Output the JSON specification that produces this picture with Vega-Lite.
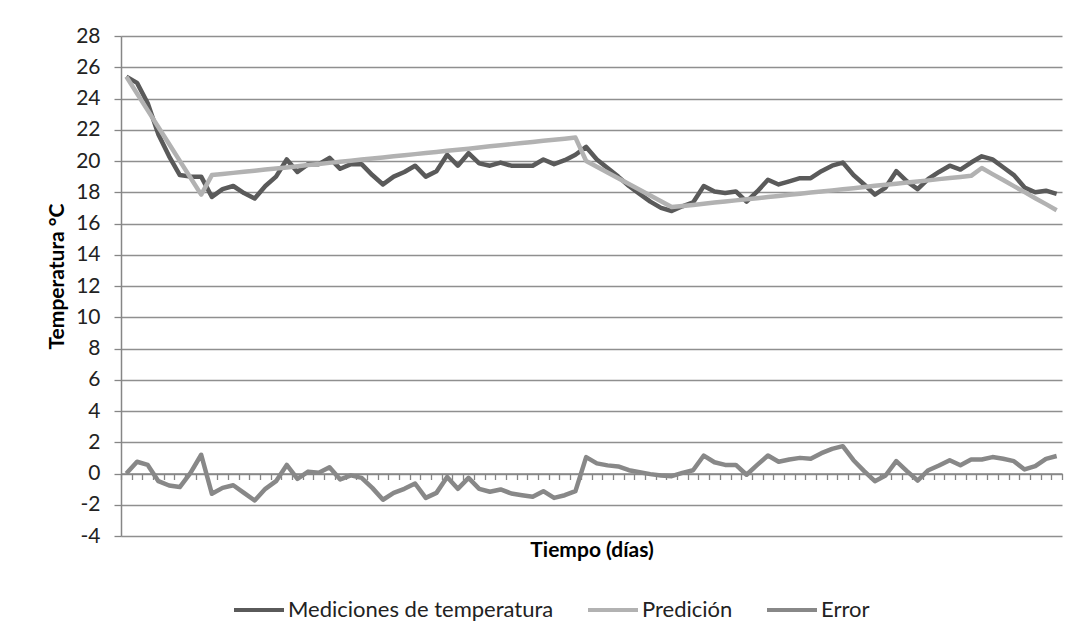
{
  "$schema": "https://vega.github.io/schema/vega-lite/v6.json",
  "autosize": {"type": "none"},
  "padding": {"left": 121, "top": 36, "right": 11, "bottom": 99},
  "width": 941,
  "height": 500,
  "background": "white",
  "config": {
    "view": {"stroke": null},
    "font": "Lato",
    "axis": {"labelFont": "Lato", "titleFont": "Lato"},
    "legend": {"labelFont": "Lato"}
  },
  "data": {"values": [
    {"dia":1,"m":25.4,"p":25.4,"e":0.0},
    {"dia":2,"m":25.0,"p":24.32,"e":0.75},
    {"dia":3,"m":23.7,"p":23.24,"e":0.55},
    {"dia":4,"m":21.7,"p":22.16,"e":-0.49},
    {"dia":5,"m":20.3,"p":21.09,"e":-0.77},
    {"dia":6,"m":19.1,"p":20.01,"e":-0.87},
    {"dia":7,"m":19.0,"p":18.93,"e":0.04},
    {"dia":8,"m":19.0,"p":17.85,"e":1.2},
    {"dia":9,"m":17.7,"p":19.1,"e":-1.3},
    {"dia":10,"m":18.2,"p":19.17,"e":-0.92},
    {"dia":11,"m":18.4,"p":19.24,"e":-0.75},
    {"dia":12,"m":17.95,"p":19.31,"e":-1.24},
    {"dia":13,"m":17.6,"p":19.38,"e":-1.73},
    {"dia":14,"m":18.4,"p":19.45,"e":-0.98},
    {"dia":15,"m":19.0,"p":19.52,"e":-0.49},
    {"dia":16,"m":20.1,"p":19.59,"e":0.55},
    {"dia":17,"m":19.3,"p":19.66,"e":-0.34},
    {"dia":18,"m":19.8,"p":19.74,"e":0.12},
    {"dia":19,"m":19.8,"p":19.81,"e":0.05},
    {"dia":20,"m":20.2,"p":19.88,"e":0.4},
    {"dia":21,"m":19.5,"p":19.95,"e":-0.38},
    {"dia":22,"m":19.8,"p":20.02,"e":-0.12},
    {"dia":23,"m":19.8,"p":20.09,"e":-0.28},
    {"dia":24,"m":19.1,"p":20.16,"e":-0.92},
    {"dia":25,"m":18.5,"p":20.23,"e":-1.68},
    {"dia":26,"m":19.0,"p":20.3,"e":-1.24},
    {"dia":27,"m":19.3,"p":20.37,"e":-0.98},
    {"dia":28,"m":19.7,"p":20.44,"e":-0.64},
    {"dia":29,"m":19.0,"p":20.51,"e":-1.56},
    {"dia":30,"m":19.35,"p":20.58,"e":-1.24},
    {"dia":31,"m":20.4,"p":20.65,"e":-0.22},
    {"dia":32,"m":19.7,"p":20.72,"e":-0.98},
    {"dia":33,"m":20.5,"p":20.79,"e":-0.28},
    {"dia":34,"m":19.85,"p":20.86,"e":-0.98},
    {"dia":35,"m":19.7,"p":20.94,"e":-1.17},
    {"dia":36,"m":19.9,"p":21.01,"e":-1.02},
    {"dia":37,"m":19.7,"p":21.08,"e":-1.28},
    {"dia":38,"m":19.7,"p":21.15,"e":-1.39},
    {"dia":39,"m":19.7,"p":21.22,"e":-1.49},
    {"dia":40,"m":20.1,"p":21.29,"e":-1.13},
    {"dia":41,"m":19.8,"p":21.36,"e":-1.56},
    {"dia":42,"m":20.05,"p":21.43,"e":-1.39},
    {"dia":43,"m":20.4,"p":21.5,"e":-1.13},
    {"dia":44,"m":20.9,"p":20.0,"e":1.05},
    {"dia":45,"m":20.1,"p":19.63,"e":0.65},
    {"dia":46,"m":19.55,"p":19.26,"e":0.52},
    {"dia":47,"m":19.0,"p":18.89,"e":0.45},
    {"dia":48,"m":18.4,"p":18.53,"e":0.21},
    {"dia":49,"m":17.9,"p":18.16,"e":0.08},
    {"dia":50,"m":17.4,"p":17.79,"e":-0.04},
    {"dia":51,"m":17.0,"p":17.42,"e":-0.13},
    {"dia":52,"m":16.8,"p":17.05,"e":-0.17},
    {"dia":53,"m":17.1,"p":17.12,"e":0.04},
    {"dia":54,"m":17.35,"p":17.19,"e":0.21},
    {"dia":55,"m":18.4,"p":17.26,"e":1.15},
    {"dia":56,"m":18.05,"p":17.34,"e":0.72},
    {"dia":57,"m":17.95,"p":17.41,"e":0.55},
    {"dia":58,"m":18.05,"p":17.48,"e":0.55},
    {"dia":59,"m":17.4,"p":17.55,"e":-0.08},
    {"dia":60,"m":18.05,"p":17.62,"e":0.55},
    {"dia":61,"m":18.8,"p":17.69,"e":1.15},
    {"dia":62,"m":18.5,"p":17.76,"e":0.75},
    {"dia":63,"m":18.7,"p":17.84,"e":0.9},
    {"dia":64,"m":18.9,"p":17.91,"e":1.0},
    {"dia":65,"m":18.9,"p":17.98,"e":0.94},
    {"dia":66,"m":19.35,"p":18.05,"e":1.3},
    {"dia":67,"m":19.7,"p":18.12,"e":1.58},
    {"dia":68,"m":19.9,"p":18.19,"e":1.75},
    {"dia":69,"m":19.1,"p":18.26,"e":0.85},
    {"dia":70,"m":18.5,"p":18.34,"e":0.15},
    {"dia":71,"m":17.85,"p":18.41,"e":-0.49},
    {"dia":72,"m":18.3,"p":18.48,"e":-0.13},
    {"dia":73,"m":19.35,"p":18.55,"e":0.79},
    {"dia":74,"m":18.7,"p":18.62,"e":0.15},
    {"dia":75,"m":18.2,"p":18.69,"e":-0.45},
    {"dia":76,"m":18.85,"p":18.76,"e":0.21},
    {"dia":77,"m":19.3,"p":18.84,"e":0.51},
    {"dia":78,"m":19.7,"p":18.91,"e":0.85},
    {"dia":79,"m":19.45,"p":18.98,"e":0.53},
    {"dia":80,"m":19.9,"p":19.05,"e":0.9},
    {"dia":81,"m":20.3,"p":19.55,"e":0.9},
    {"dia":82,"m":20.1,"p":19.16,"e":1.05},
    {"dia":83,"m":19.6,"p":18.78,"e":0.94},
    {"dia":84,"m":19.1,"p":18.39,"e":0.79},
    {"dia":85,"m":18.3,"p":18.01,"e":0.26},
    {"dia":86,"m":18.0,"p":17.62,"e":0.47},
    {"dia":87,"m":18.1,"p":17.24,"e":0.94},
    {"dia":88,"m":17.9,"p":16.85,"e":1.12}
  ]},
  "transform": [
    {"fold": ["m", "p", "e"], "as": ["serie", "valor"]}
  ],
  "mark": {"type": "line", "strokeWidth": 4.5, "strokeJoin": "round"},
  "encoding": {
    "x": {
      "field": "dia", "type": "quantitative",
      "scale": {"domain": [0.5, 88.5], "nice": false, "zero": false},
      "axis": {
        "orient": "bottom",
        "offset": -62.5,
        "values": [0.5,1.5,2.5,3.5,4.5,5.5,6.5,7.5,8.5,9.5,10.5,11.5,12.5,13.5,14.5,15.5,16.5,17.5,18.5,19.5,20.5,21.5,22.5,23.5,24.5,25.5,26.5,27.5,28.5,29.5,30.5,31.5,32.5,33.5,34.5,35.5,36.5,37.5,38.5,39.5,40.5,41.5,42.5,43.5,44.5,45.5,46.5,47.5,48.5,49.5,50.5,51.5,52.5,53.5,54.5,55.5,56.5,57.5,58.5,59.5,60.5,61.5,62.5,63.5,64.5,65.5,66.5,67.5,68.5,69.5,70.5,71.5,72.5,73.5,74.5,75.5,76.5,77.5,78.5,79.5,80.5,81.5,82.5,83.5,84.5,85.5,86.5,87.5,88.5],
        "labels": false,
        "grid": false,
        "ticks": true,
        "tickSize": 6,
        "tickColor": "#868686",
        "tickWidth": 1.3,
        "domainColor": "#868686",
        "domainWidth": 1.5,
        "title": "Tiempo (días)",
        "titleFontSize": 21,
        "titleFontWeight": "bold",
        "titleColor": "#000000",
        "titleBaseline": "middle",
        "titleY": 77
      }
    },
    "y": {
      "field": "valor", "type": "quantitative",
      "scale": {"domain": [-4, 28], "nice": false, "zero": false},
      "axis": {
        "values": [-4,-2,0,2,4,6,8,10,12,14,16,18,20,22,24,26,28],
        "labelExpr": "datum.value + ''",
        "labelOverlap": false,
        "grid": true,
        "gridColor": "#8f8f8f",
        "gridWidth": 1.3,
        "domainColor": "#868686",
        "domainWidth": 1.5,
        "tickColor": "#868686",
        "tickSize": 7,
        "tickWidth": 1.3,
        "labelFontSize": 21,
        "labelColor": "#222222",
        "labelPadding": 14,
        "title": "Temperatura °C",
        "titleFontSize": 21,
        "titleFontWeight": "bold",
        "titleColor": "#000000",
        "titleX": -64,
        "titleY": 240,
        "titleBaseline": "middle"
      }
    },
    "color": {
      "field": "serie", "type": "nominal",
      "scale": {
        "domain": ["m", "p", "e"],
        "range": ["#5a5a5a", "#b2b2b2", "#888888"]
      },
      "legend": {
        "orient": "none",
        "direction": "horizontal",
        "legendX": 111,
        "legendY": 547,
        "title": null,
        "labelExpr": "datum.value == 'm' ? 'Mediciones de temperatura' : datum.value == 'p' ? 'Predición' : 'Error'",
        "symbolType": "stroke",
        "symbolSize": 2500,
        "symbolStrokeWidth": 4,
        "labelFontSize": 22,
        "labelLimit": 400,
        "labelColor": "#222222",
        "labelOffset": 2,
        "columnPadding": 26
      }
    }
  }
}
